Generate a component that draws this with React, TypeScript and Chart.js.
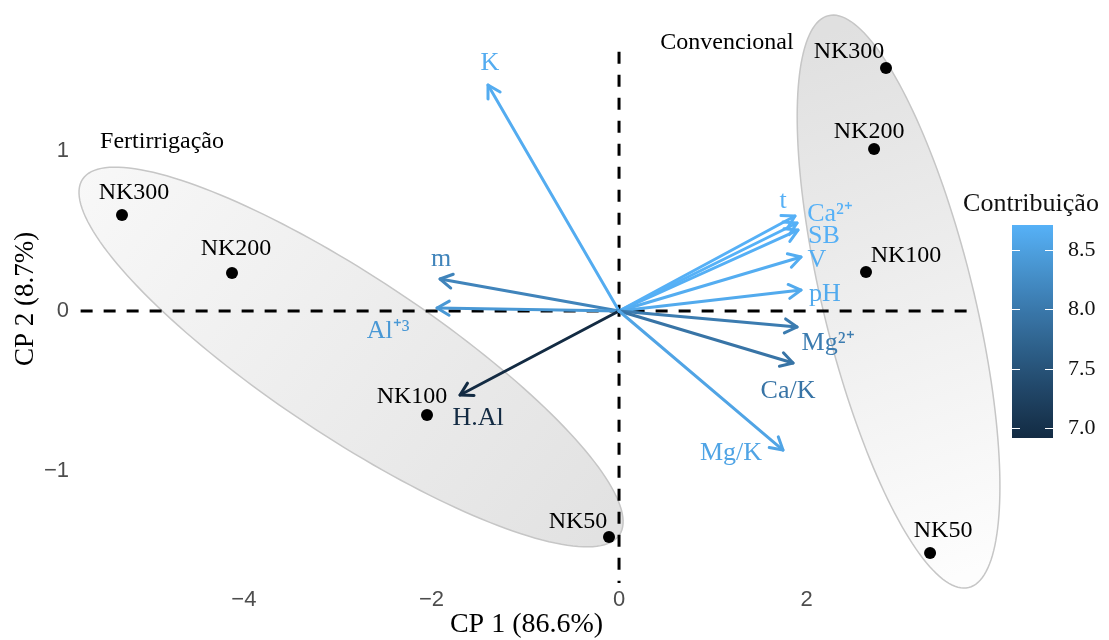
import React, { useEffect, useRef } from 'react';
import { Chart, registerables } from 'chart.js';

Chart.register(...registerables);

// ---------- data ----------
const xTicks = [-4, -2, 0, 2];
const yTicks = [-1, 0, 1];
const xRange = [-5.768, 3.795];
const yRange = [-1.7, 1.85];

const sampleNames = ['NK300', 'NK200', 'NK100', 'NK50'];
const fertX = [-5.299, -4.126, -2.047, -0.107];
const fertY = [0.6, 0.2375, -0.65, -1.4125];
const convX = [2.846, 2.719, 2.633, 3.316];
const convY = [1.519, 1.0125, 0.244, -1.5125];

const groupNames = ['Fertirrigação', 'Convencional'];
const groupLabelX = [-4.872, 1.151];
const groupLabelY = [1.056, 1.675];

// ellipse: centre, major-axis vector, minor-axis vector (data units)
const fertEllipse = [-2.857, -0.2875, 2.862, -1.111, -0.471, -0.417];
const convEllipse = [2.98, 0.059, 0.748, -1.787, -0.78, -0.1125];

const varNames = ['K', 'm', 'Al⁺³', 'H.Al', 't', 'Ca²⁺', 'SB', 'V', 'pH', 'Mg²⁺', 'Ca/K', 'Mg/K'];
const varX = [-1.397, -1.908, -1.94, -1.695, 1.876, 1.898, 1.908, 1.94, 1.94, 1.898, 1.855, 1.748];
const varY = [1.4125, 0.2, 0.019, -0.525, 0.594, 0.55, 0.506, 0.3375, 0.131, -0.1, -0.325, -0.869];
const contrib = [8.65, 8.15, 8.4, 6.92, 8.7, 8.71, 8.69, 8.66, 8.62, 8.05, 7.95, 8.55];
const colorTicks = [7.0, 7.5, 8.0, 8.5];

// ---------- layout (pixels) ----------
const sampleLabelOffsetFert = [[12, -22], [4, -24], [-15, -18], [-31, -15]];
const sampleLabelOffsetConv = [[-37, -16], [-5, -17], [40, -16], [13, -22]];
const varLabelOffset = [[2, -22], [1, -20], [-49, 23], [18, 23], [-12, -15], [33, -9], [26, 6], [16, 3], [24, 4], [31, 16], [-5, 28], [-52, 3]];

const SERIF = "'Liberation Serif', 'Times New Roman', serif";
const SANS = "'Liberation Sans', Arial, sans-serif";

// ---------- colour (Lab interpolation like ggplot) ----------
const LOW = '#132B43';
const HIGH = '#56B1F7';
function hexToRgb(h: string) {
  const n = parseInt(h.slice(1), 16);
  return [(n >> 16) & 255, (n >> 8) & 255, n & 255];
}
function toLin(c: number) { c /= 255; return c <= 0.04045 ? c / 12.92 : Math.pow((c + 0.055) / 1.055, 2.4); }
function fromLin(c: number) {
  const v = c <= 0.0031308 ? 12.92 * c : 1.055 * Math.pow(c, 1 / 2.4) - 0.055;
  return Math.round(Math.max(0, Math.min(1, v)) * 255);
}
function rgbToLab(rgb: number[]) {
  const R = toLin(rgb[0]), G = toLin(rgb[1]), B = toLin(rgb[2]);
  const X = (0.4124 * R + 0.3576 * G + 0.1805 * B) / 0.95047;
  const Y = 0.2126 * R + 0.7152 * G + 0.0722 * B;
  const Z = (0.0193 * R + 0.1192 * G + 0.9505 * B) / 1.08883;
  const f = (t: number) => (t > 0.008856 ? Math.cbrt(t) : 7.787 * t + 16 / 116);
  const fx = f(X), fy = f(Y), fz = f(Z);
  return [116 * fy - 16, 500 * (fx - fy), 200 * (fy - fz)];
}
function labToRgb(lab: number[]) {
  const fy = (lab[0] + 16) / 116, fx = fy + lab[1] / 500, fz = fy - lab[2] / 200;
  const inv = (t: number) => (t * t * t > 0.008856 ? t * t * t : (t - 16 / 116) / 7.787);
  const X = inv(fx) * 0.95047, Y = inv(fy), Z = inv(fz) * 1.08883;
  const R = 3.2406 * X - 1.5372 * Y - 0.4986 * Z;
  const G = -0.9689 * X + 1.8758 * Y + 0.0415 * Z;
  const B = 0.0557 * X - 0.204 * Y + 1.057 * Z;
  return [fromLin(R), fromLin(G), fromLin(B)];
}
const labLow = rgbToLab(hexToRgb(LOW));
const labHigh = rgbToLab(hexToRgb(HIGH));
const cMin = Math.min(...contrib);
const cMax = Math.max(...contrib);
function colorFor(v: number) {
  const t = Math.max(0, Math.min(1, (v - cMin) / (cMax - cMin)));
  const lab = labLow.map((l, i) => l + (labHigh[i] - l) * t);
  const rgb = labToRgb(lab);
  return `rgb(${rgb[0]},${rgb[1]},${rgb[2]})`;
}

// ---------- plugins ----------
function ellipsePath(ctx: CanvasRenderingContext2D, xs: any, ys: any, e: number[]) {
  ctx.beginPath();
  const N = 180;
  for (let i = 0; i <= N; i++) {
    const a = (i / N) * Math.PI * 2;
    const dx = e[0] + e[2] * Math.cos(a) + e[4] * Math.sin(a);
    const dy = e[1] + e[3] * Math.cos(a) + e[5] * Math.sin(a);
    const px = xs.getPixelForValue(dx);
    const py = ys.getPixelForValue(dy);
    if (i === 0) ctx.moveTo(px, py); else ctx.lineTo(px, py);
  }
  ctx.closePath();
}

const ellipsePlugin = {
  id: 'ellipses',
  beforeDatasetsDraw(chart: any) {
    const { ctx, scales: { x, y } } = chart;
    ctx.save();
    // Fertirrigação
    ellipsePath(ctx, x, y, fertEllipse);
    let g = ctx.createLinearGradient(x.getPixelForValue(-5.6), y.getPixelForValue(1.0), x.getPixelForValue(-0.2), y.getPixelForValue(-1.4));
    g.addColorStop(0, '#f8f8f8');
    g.addColorStop(1, '#e2e2e2');
    ctx.fillStyle = g;
    ctx.fill();
    ctx.strokeStyle = '#c6c6c6';
    ctx.lineWidth = 1.5;
    ctx.stroke();
    // Convencional
    ellipsePath(ctx, x, y, convEllipse);
    g = ctx.createLinearGradient(x.getPixelForValue(2.0), y.getPixelForValue(1.7), x.getPixelForValue(3.9), y.getPixelForValue(-1.6));
    g.addColorStop(0, '#e0e0e0');
    g.addColorStop(1, '#fdfdfd');
    ctx.fillStyle = g;
    ctx.fill();
    ctx.strokeStyle = '#c6c6c6';
    ctx.stroke();
    ctx.restore();
  },
};

const arrowPlugin = {
  id: 'arrows',
  afterDatasetsDraw(chart: any) {
    const { ctx, scales: { x, y } } = chart;
    const ox = x.getPixelForValue(0);
    const oy = y.getPixelForValue(0);
    ctx.save();
    varNames.forEach((name, i) => {
      const col = colorFor(contrib[i]);
      const tx = x.getPixelForValue(varX[i]);
      const ty = y.getPixelForValue(varY[i]);
      ctx.strokeStyle = col;
      ctx.lineWidth = 3;
      ctx.lineCap = 'round';
      ctx.lineJoin = 'round';
      ctx.beginPath();
      ctx.moveTo(ox, oy);
      ctx.lineTo(tx, ty);
      ctx.stroke();
      const ang = Math.atan2(ty - oy, tx - ox);
      const L = 14, A = Math.PI / 6;
      ctx.beginPath();
      ctx.moveTo(tx - L * Math.cos(ang - A), ty - L * Math.sin(ang - A));
      ctx.lineTo(tx, ty);
      ctx.lineTo(tx - L * Math.cos(ang + A), ty - L * Math.sin(ang + A));
      ctx.stroke();
    });
    // variable labels
    ctx.textAlign = 'center';
    ctx.textBaseline = 'middle';
    ctx.font = `26px ${SERIF}`;
    varNames.forEach((name, i) => {
      ctx.fillStyle = colorFor(contrib[i]);
      const tx = x.getPixelForValue(varX[i]) + varLabelOffset[i][0];
      const ty = y.getPixelForValue(varY[i]) + varLabelOffset[i][1];
      ctx.fillText(name, tx, ty);
    });
    // sample labels
    ctx.fillStyle = '#000';
    ctx.font = `24px ${SERIF}`;
    sampleNames.forEach((n, i) => {
      ctx.fillText(n, x.getPixelForValue(fertX[i]) + sampleLabelOffsetFert[i][0], y.getPixelForValue(fertY[i]) + sampleLabelOffsetFert[i][1]);
      ctx.fillText(n, x.getPixelForValue(convX[i]) + sampleLabelOffsetConv[i][0], y.getPixelForValue(convY[i]) + sampleLabelOffsetConv[i][1]);
    });
    // group labels
    groupNames.forEach((n, i) => {
      ctx.fillText(n, x.getPixelForValue(groupLabelX[i]), y.getPixelForValue(groupLabelY[i]));
    });
    ctx.restore();
  },
};

const colorbarPlugin = {
  id: 'colorbar',
  afterDraw(chart: any) {
    const { ctx } = chart;
    const bx = 1012, bw = 41, top = 225, h = 213;
    const vy = (v: number) => top + ((cMax - v) / (cMax - cMin)) * h;
    ctx.save();
    const g = ctx.createLinearGradient(0, top + h, 0, top);
    const N = 24;
    for (let i = 0; i <= N; i++) {
      g.addColorStop(i / N, colorFor(cMin + ((cMax - cMin) * i) / N));
    }
    ctx.fillStyle = g;
    ctx.fillRect(bx, top, bw, h);
    ctx.strokeStyle = '#ffffff';
    ctx.lineWidth = 1.2;
    ctx.fillStyle = '#111';
    ctx.font = `22px ${SERIF}`;
    ctx.textAlign = 'left';
    ctx.textBaseline = 'middle';
    colorTicks.forEach((v) => {
      const yy = Math.round(vy(v)) + 0.5;
      ctx.beginPath();
      ctx.moveTo(bx, yy); ctx.lineTo(bx + 8, yy);
      ctx.moveTo(bx + bw - 8, yy); ctx.lineTo(bx + bw, yy);
      ctx.stroke();
      ctx.fillText(v.toFixed(1), 1068, yy);
    });
    ctx.font = `26px ${SERIF}`;
    ctx.textAlign = 'center';
    ctx.fillText('Contribuição', 1031, 204);
    ctx.restore();
  },
};

const fmt = (v: any) => (v < 0 ? '\u2212' + Math.abs(v) : String(v));

export default function App() {
  const ref = useRef<HTMLCanvasElement>(null);
  useEffect(() => {
    document.body.style.margin = '0';
    const chart = new Chart(ref.current as HTMLCanvasElement, {
      type: 'scatter',
      data: {
        datasets: [
          {
            label: 'Fertirrigação',
            data: fertX.map((v, i) => ({ x: v, y: fertY[i] })),
            backgroundColor: '#000',
            borderWidth: 0,
            pointRadius: 6,
          },
          {
            label: 'Convencional',
            data: convX.map((v, i) => ({ x: v, y: convY[i] })),
            backgroundColor: '#000',
            borderWidth: 0,
            pointRadius: 6,
          },
          {
            label: 'h0',
            data: [{ x: -5.74, y: 0 }, { x: 3.79, y: 0 }],
            showLine: true,
            pointRadius: 0,
            borderColor: '#000',
            borderWidth: 3,
            borderDash: [12, 11],
          },
          {
            label: 'v0',
            data: [{ x: 0, y: 1.62 }, { x: 0, y: -1.7 }],
            showLine: true,
            pointRadius: 0,
            borderColor: '#000',
            borderWidth: 3,
            borderDash: [12, 11],
          },
        ],
      } as any,
      options: {
        responsive: false,
        animation: false,
        layout: { padding: { left: 0, top: 15, right: 134, bottom: 0 } },
        plugins: { legend: { display: false }, tooltip: { enabled: false } },
        scales: {
          x: {
            type: 'linear',
            min: xRange[0],
            max: xRange[1],
            grid: { display: false, drawTicks: false },
            border: { display: false },
            afterBuildTicks: (s: any) => { s.ticks = xTicks.map((v) => ({ value: v })); },
            afterFit: (s: any) => { s.height = 57; s.paddingLeft = 0; s.paddingRight = 0; s.paddingTop = 0; s.paddingBottom = 0; },
            ticks: { padding: 4, font: { family: SANS, size: 22 }, color: '#4d4d4d', callback: fmt },
            title: { display: true, text: 'CP 1 (86.6%)', font: { family: SERIF, size: 28, lineHeight: 1 }, color: '#000', padding: { top: 0, bottom: 1 } },
          },
          y: {
            type: 'linear',
            min: yRange[0],
            max: yRange[1],
            grid: { display: false, drawTicks: false },
            border: { display: false },
            afterBuildTicks: (s: any) => { s.ticks = yTicks.map((v) => ({ value: v })); },
            afterFit: (s: any) => { s.width = 78; s.paddingLeft = 0; s.paddingRight = 0; s.paddingTop = 0; s.paddingBottom = 0; },
            ticks: { padding: 9, font: { family: SANS, size: 22 }, color: '#4d4d4d', callback: fmt },
            title: { display: true, text: 'CP 2 (8.7%)', font: { family: SERIF, size: 27, lineHeight: 1 }, color: '#000', padding: { top: 12, bottom: 0 } },
          },
        },
      } as any,
      plugins: [ellipsePlugin, arrowPlugin, colorbarPlugin],
    });
    return () => chart.destroy();
  }, []);
  return (
    <div style={{ width: 1109, height: 640 }}>
      <canvas ref={ref} width={1109} height={640} style={{ display: 'block' }} />
    </div>
  );
}
